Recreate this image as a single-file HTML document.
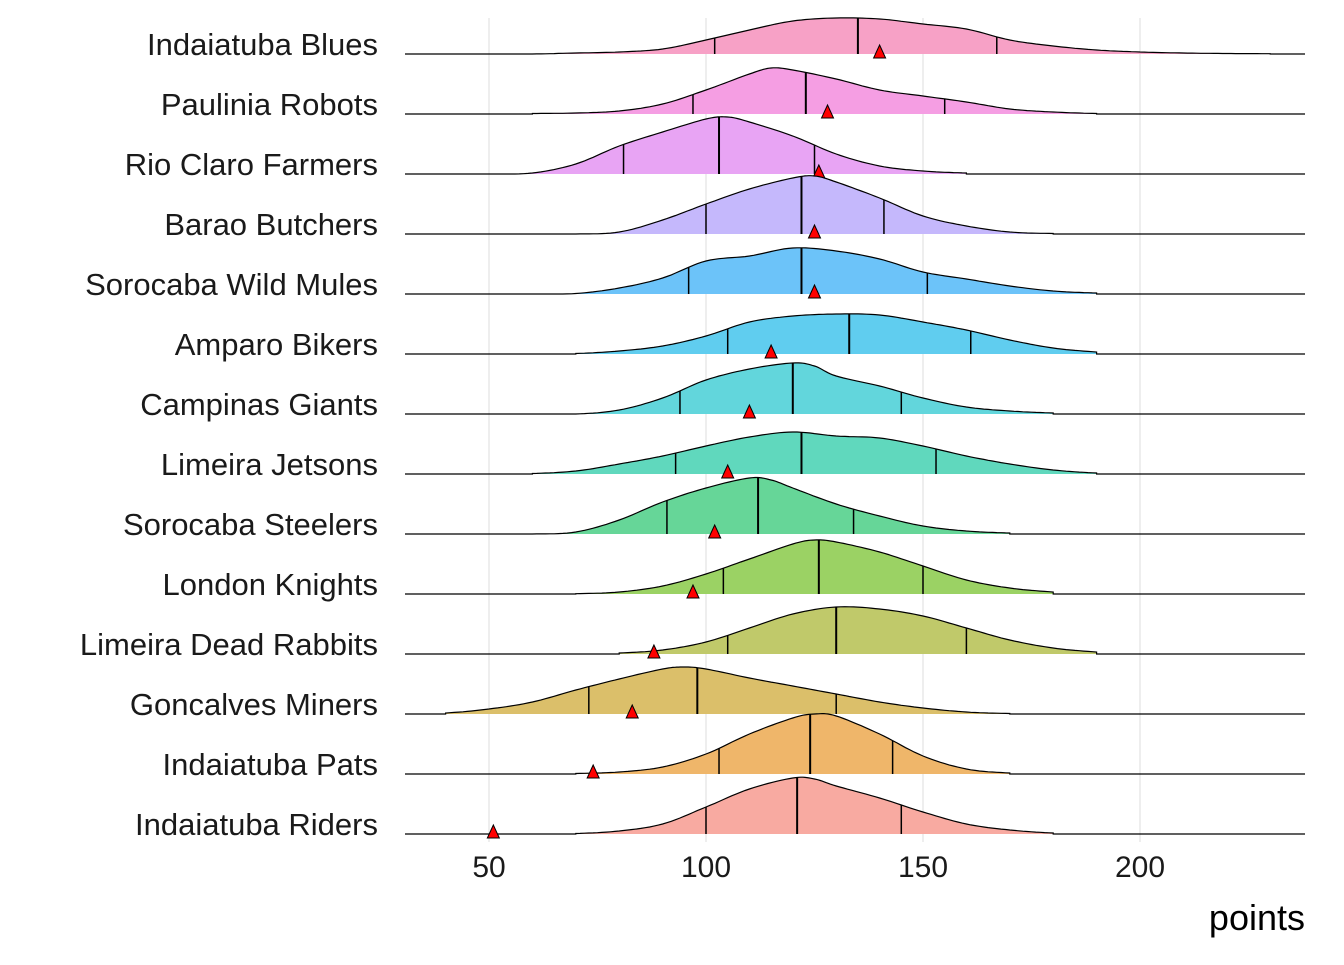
<!DOCTYPE html>
<html><head><meta charset="utf-8"><style>
body{margin:0;background:#fff;}
svg text{font-family:"Liberation Sans",Arial,sans-serif;}
</style></head><body>
<svg id="chart" width="1344" height="960"></svg>
<script>
const teams=["Indaiatuba Blues","Paulinia Robots","Rio Claro Farmers","Barao Butchers","Sorocaba Wild Mules","Amparo Bikers","Campinas Giants","Limeira Jetsons","Sorocaba Steelers","London Knights","Limeira Dead Rabbits","Goncalves Miners","Indaiatuba Pats","Indaiatuba Riders"];
const colors=["#f7a1c6","#f59ee3","#e8a4f4","#c5b8fc","#6cc3f9","#60cdef","#62d6dc","#60d8bd","#66d698","#9bd264","#c0c96a","#dbbf6a","#efb66a","#f8aaa1"];
const densX=[
[60,70,80,90,100,110,120,130,140,150,160,170,180,190,200,210,220,230],
[60,70,80,90,100,110,115,120,130,140,150,160,170,180,190],
[50,60,70,80,90,100,105,110,120,130,140,150,160],
[70,80,90,100,110,120,125,130,140,150,160,170,180],
[60,70,80,90,100,110,120,130,140,150,160,170,180,190],
[70,80,90,100,110,120,130,140,150,160,170,180,190],
[70,80,90,100,110,120,125,130,140,150,160,170,180],
[60,70,80,90,100,110,120,130,140,150,160,170,180,190],
[60,70,80,90,100,110,115,120,130,140,150,160,170],
[70,80,90,100,110,120,125,130,140,150,160,170,180],
[80,90,100,110,120,130,140,150,160,170,180,190],
[40,50,60,70,80,90,95,100,110,120,130,140,150,160,170],
[70,80,90,100,110,120,125,130,140,150,160,170],
[70,80,90,100,110,120,125,130,140,150,160,170,180]];
const densH=[
[0,1,2,5,14,24,33,36,35,30,25,14,8,4,2,1,0.5,0.3],
[0.5,1,3,10,24,40,46,44,35,24,18,12,5,2,0.5],
[0,1,10,28,42,55,57,52,38,20,8,3,1],
[0,2,14,30,45,56,58,52,36,18,8,2,0.5],
[0,0.5,6,16,33,38,46,43,35,22,15,8,3,1],
[0.5,3,8,18,32,38,40,39,32,24,14,6,2],
[0,4,16,34,45,51,48,38,28,16,7,3,1],
[0.5,3,10,18,28,37,42,38,36,28,18,10,4,1],
[0,2,14,32,46,56,54,46,30,18,8,3,1],
[0.3,2,8,20,35,50,54,52,42,28,14,6,2],
[1,4,12,26,40,47,45,38,26,14,6,2],
[1,5,12,24,35,45,47,45,36,28,20,12,6,2,0.5],
[0.5,2,7,20,40,56,60,58,40,18,5,1],
[0.5,3,10,27,45,56,55,48,36,22,10,4,1]];
const q25=[102,97,81,100,96,105,94,93,91,104,105,73,103,100];
const q50=[135,123,103,122,122,133,120,122,112,126,130,98,124,121];
const q75=[167,155,125,141,151,161,145,153,134,150,160,130,143,145];
const markers=[140,128,126,125,125,115,110,105,102,97,88,83,74,51];
const ticks=[50,100,150,200];

const NS="http://www.w3.org/2000/svg";
const svg=document.getElementById('chart');
const xS=v=>272+4.34*v;
const base=i=>54+60*i;
const yS=(i,h)=>base(i)-h;
function mk(t,a,p){const e=document.createElementNS(NS,t);for(const k in a)e.setAttribute(k,a[k]);(p||svg).appendChild(e);return e;}
// smooth sampler via Catmull-Rom through data points
function smoothPts(xs,hs){
  const P=[[xs[0]-10,0]].concat(xs.map((x,k)=>[x,hs[k]])).concat([[xs[xs.length-1]+10,0]]);
  const out=[];
  for(let k=1;k<P.length-2;k++){
    const p0=P[k-1],p1=P[k],p2=P[k+1],p3=P[k+2];
    for(let s=0;s<10;s++){
      const t=s/10,t2=t*t,t3=t2*t;
      const f=(a,b,c,d)=>0.5*((2*b)+(-a+c)*t+(2*a-5*b+4*c-d)*t2+(-a+3*b-3*c+d)*t3);
      out.push([f(p0[0],p1[0],p2[0],p3[0]),Math.max(0,f(p0[1],p1[1],p2[1],p3[1]))]);
    }
  }
  out.push([xs[xs.length-1],hs[hs.length-1]]);
  return out;
}
function hAt(pts,v){for(let k=0;k<pts.length-1;k++){if(v>=pts[k][0]&&v<=pts[k+1][0]){const t=(v-pts[k][0])/((pts[k+1][0]-pts[k][0])||1);return pts[k][1]+(pts[k+1][1]-pts[k][1])*t;}}return 0;}

ticks.forEach(t=>{
  const g=mk('line',{x1:xS(t),x2:xS(t),y1:18,y2:842,stroke:'#e3e3e3','stroke-width':1.2});
  
  
  const l=mk('text',{x:xS(t),y:877,'text-anchor':'middle','font-size':30,fill:'#1a1a1a'});
  l.textContent=t;
  
  
});

teams.forEach((name,i)=>{
  const g=mk('g',{});
  
  
  const pts=smoothPts(densX[i],densH[i]);
  const x0=xS(pts[0][0]),x1=xS(pts[pts.length-1][0]);
  let d='M'+x0+','+base(i);
  pts.forEach(p=>{d+=' L'+xS(p[0]).toFixed(1)+','+yS(i,p[1]).toFixed(1);});
  d+=' L'+x1+','+base(i)+' Z';
  const f=mk('path',{d:d,fill:colors[i],stroke:'none'},g);
  
  
  let d2='M405,'+base(i)+' L'+x0+','+base(i);
  pts.forEach(p=>{d2+=' L'+xS(p[0]).toFixed(1)+','+yS(i,p[1]).toFixed(1);});
  d2+=' L'+x1+','+base(i)+' L1305,'+base(i);
  const ln=mk('path',{d:d2,fill:'none',stroke:'#000','stroke-width':1.2},g);
  
  
  [q25[i],q50[i],q75[i]].forEach((q,k)=>{
    const ql=mk('line',{x1:xS(q),x2:xS(q),y1:base(i),y2:yS(i,hAt(pts,q)),stroke:'#000','stroke-width':k==1?2:1.5},g);
    
    
  });
  const mx=xS(markers[i]),my=base(i)-1;
  const tr=mk('polygon',{points:`${mx-6},${my+5} ${mx+6},${my+5} ${mx},${my-8}`,fill:'#ff0000',stroke:'#000','stroke-width':1},g);
  
  
  const lb=mk('text',{x:378,y:base(i)+1,'text-anchor':'end','font-size':31,fill:'#1a1a1a'});
  lb.textContent=name;
  
  
});
const xt=mk('text',{x:1305,y:930,'text-anchor':'end','font-size':36,fill:'#000'});
xt.textContent='points';


</script>
</body></html>
